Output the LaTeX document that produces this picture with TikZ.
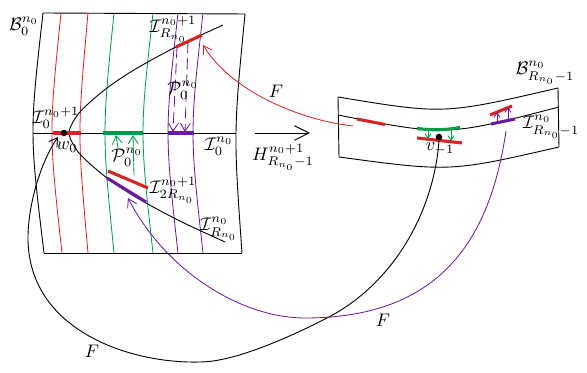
\documentclass[tikz,border=0pt]{standalone}
\usetikzlibrary{arrows.meta}
\definecolor{cred}{RGB}{215,35,35}
\definecolor{cgreen}{RGB}{0,155,75}
\definecolor{cpurple}{RGB}{105,25,155}
\begin{document}
\begin{tikzpicture}[x=0.55pt,y=-0.55pt,
  thinline/.style={line width=0.45pt},
  edge/.style={line width=0.5pt,draw=black},
  seg/.style={line width=1.7pt},
  vtip/.style={-{Straight Barb[length=4.5pt,width=5.5pt]}},
  stip/.style={-{Straight Barb[length=2.6pt,width=3.4pt]}},
  lab/.style={inner sep=0pt},
  dot/.style={circle,fill=black,inner sep=0pt,minimum size=3.6pt}
]
\useasboundingbox (0,0) rectangle (587,373);

% ---------- left box ----------
\draw[edge] (43,13) -- (245,14);
\draw[edge] (44,253) -- (242,253);
\draw[edge] (43,13) .. controls (29.5,133) .. (44,253);
\draw[edge] (245,14) .. controls (233.5,133) .. (242,253);
\draw[cred,thinline] (61,13) .. controls (48.8,133) .. (62,253);
\draw[cred,thinline] (88,13) .. controls (77.3,133) .. (88,253);
\draw[cgreen,thinline] (114,13) .. controls (102,133) .. (114,253);
\draw[cgreen,thinline] (153,13) .. controls (139.7,133) .. (153,253);
\draw[cpurple,thinline] (178,13) .. controls (164.7,133) .. (178,253);
\draw[cpurple,thinline] (203,13) .. controls (189.7,133) .. (203,253);
\draw[edge] (33,133) -- (236,133);

% parabola
\draw[edge] plot[smooth] coordinates {
 (223,25) (184,43) (155,58) (129,73) (107,88) (89,103) (79,113) (75.5,118)
 (72.4,123) (70.1,128) (69,133) (70.1,138) (72.4,143) (75.5,148) (79,153)
 (89,163) (107,178) (129,193) (155,208) (184,223) (225,242)};

% thick segments
\draw[cred,seg] (53,133) -- (81,133);
\draw[cgreen,seg] (103,133) -- (143,133);
\draw[cpurple,seg] (168,133) -- (194,133);
\draw[cred,seg] (176,47) -- (202,35);
\draw[cred,seg] (108,171) -- (148,188);
\draw[cpurple,seg] (107,178) -- (146,202);

% dashed purple arrows
\draw[cpurple,thinline,dash pattern=on 6pt off 3pt,vtip] (177,47) -- (173,132);
\draw[cpurple,thinline,dash pattern=on 6pt off 3pt,vtip] (188,42) -- (185,132);
% green arrows
\draw[cgreen,thinline,vtip] (118,148) -- (116,135);
\draw[cgreen,thinline,vtip] (134,175) -- (133,135);

\node[dot] (w0) at (64,133) {};
\coordinate (w0tip) at (58,137);

% labels left
\node[lab] (lB0) at (24,26) {$\mathcal{B}_0^{n_0}$};
\node[lab] (lIR1) at (173,29) {$\mathcal{I}_{R_{n_0}}^{n_0+1}$};
\node[lab] (lPu) at (183,90) {$\mathcal{P}_0^{n_0}$};
\node[lab] (lI01) at (56,118) {$\mathcal{I}_0^{n_0+1}$};
\node[lab] (lw0) at (67,147) {$w_0$};
\node[lab] (lPl) at (127,157) {$\mathcal{P}_0^{n_0}$};
\node[lab] (lI0) at (219,146) {$\mathcal{I}_0^{n_0}$};
\node[lab] (lI2R) at (173,190) {$\mathcal{I}_{2R_{n_0}}^{n_0+1}$};
\node[lab] (lIR) at (219,229) {$\mathcal{I}_{R_{n_0}}^{n_0}$};

% ---------- H arrow ----------
\coordinate (ha) at (255,133);
\coordinate (hb) at (310,133);
\draw[edge,-{Straight Barb[length=8pt,width=8pt]}] (ha) -- (hb);
\node[lab] (lH) at (283,157) {$H_{R_{n_0}-1}^{n_0+1}$};

% ---------- right box ----------
\draw[edge] (338,97) .. controls (444,114.5) .. (558,88);
\draw[edge] (338,115) .. controls (446.5,136.3) .. (559,107);
\draw[edge] (339,157) .. controls (450.3,172) .. (559,147);
\draw[edge] (338,97) -- (339,157);
\draw[edge] (558,88) -- (559,147);

\draw[cred,seg] (357,119) -- (385,124.5);
\draw[cgreen,seg] (417,128.5) to[bend right=8] (460,127.5);
\draw[cred,seg] (417,138) -- (462,143);
\draw[cpurple,seg] (491,124) -- (515,119);
\draw[cred,seg] (490,115) -- (512,106);
\draw[cgreen,thinline,stip] (428,130) -- (428,139);
\draw[cgreen,thinline,stip] (451,129) -- (451,141);
\draw[cpurple,thinline,stip] (497,123) -- (497,112);
\draw[cpurple,thinline,stip] (508,121) -- (508,107);

\node[dot] (v1) at (439,137) {};
\node[lab] (lv1) at (440,149) {$v_{-1}$};
\node[lab] (lBR) at (545,73) {$\mathcal{B}_{R_{n_0}-1}^{n_0}$};
\node[lab] (lIR1r) at (551,127) {$\mathcal{I}_{R_{n_0}-1}^{n_0}$};

% ---------- F arrows ----------
\coordinate (rs) at (353,126);
\coordinate (rt) at (203,45);
\draw[cred,thinline,vtip] (rs) .. controls (300,120) and (232,92) .. (rt);
\node[lab] (lF1) at (276,91) {$F$};

\draw[edge,vtip] (v1.south) .. controls (434,210) and (395,283) .. (327,318)
  .. controls (292,336) and (235,362) .. (200,362)
  .. controls (130,364) and (26,330) .. (28,235)
  .. controls (29,200) and (42,160) .. (w0tip);
\node[lab] (lF3) at (92,351) {$F$};

\coordinate (ps) at (506,131);
\coordinate (pt) at (128,198);
\draw[cpurple,thinline,vtip] (ps) .. controls (490,240) and (440,318) .. (305,318)
  .. controls (240,318) and (165,270) .. (pt);
\node[lab] (lF2) at (383,320) {$F$};
\end{tikzpicture}
\end{document}
